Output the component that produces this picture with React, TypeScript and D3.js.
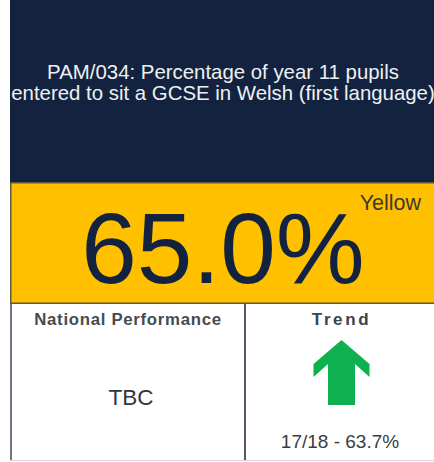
import React from "react";
import * as d3 from "d3";

const titleLines = ["PAM/034: Percentage of year 11 pupils", "entered to sit a GCSE in Welsh (first language)"];
const kpiValue = [65.0];
const ragStatus = ["Yellow"];
const cellLabels = ["National Performance", "Trend"];
const nationalValue = ["TBC"];
const trendPeriods = ["17/18"];
const trendValues = [63.7];

const W = 434;
const H = 462;
const left = 10;

// arrow shape in unit coords (x: -1..1, y: 0 top .. 1 bottom)
const arrowUnit: [number, number][] = [
  [0, 0], [1, 0.369], [1, 0.569], [0.482, 0.369], [0.482, 1],
  [-0.482, 1], [-0.482, 0.369], [-1, 0.569], [-1, 0.369], [0, 0],
];

export default function App() {
  const cellEdges = [left, 245, W];
  const fmtPct = d3.format(".1f");

  const ax = d3.scaleLinear().domain([-1, 1]).range([313.5, 369.5]);
  const ay = d3.scaleLinear().domain([0, 1]).range([340, 405]);
  const arrowPath = d3.line<[number, number]>().x((d) => ax(d[0])).y((d) => ay(d[1]))(arrowUnit) || "";

  const leftCx = (cellEdges[0] + cellEdges[1]) / 2;
  const rightCx = (cellEdges[1] + cellEdges[2]) / 2;

  return (
    <div style={{ position: "absolute", left: 0, top: 0 }}>
      <svg width={W} height={H} style={{ display: "block", fontFamily: "'Liberation Sans', Arial, sans-serif" }}>
        <rect x={0} y={0} width={W} height={H} fill="#ffffff" />
        {/* header */}
        <rect x={left} y={0} width={W - left} height={183} fill="#13233f" />
        {titleLines.map((t, i) => (
          <text key={i} x={223} y={79 + i * 20.5} textAnchor="middle" fontSize={20.4} fill="#eef0f3">
            {t}
          </text>
        ))}
        {/* KPI band */}
        <rect x={left} y={182} width={W - left} height={122} fill="#5b5a3a" />
        <rect x={left + 1.5} y={183.5} width={W - left - 1.5} height={119} fill="#ffc000" />
        <text x={223} y={283} textAnchor="middle" fontSize={100} fill="#13233f">
          {fmtPct(kpiValue[0])}%
        </text>
        <text x={421} y={210} textAnchor="end" fontSize={21.5} fill="#3b3a2c">
          {ragStatus[0]}
        </text>
        {/* bottom cells */}
        <line x1={left + 1} y1={304} x2={left + 1} y2={461} stroke="#6b7686" strokeWidth={2} />
        <line x1={245} y1={304} x2={245} y2={461} stroke="#4f5b6b" strokeWidth={2} />
        <line x1={left} y1={460.5} x2={W} y2={460.5} stroke="#d4d8dc" strokeWidth={1} />
        <text x={leftCx + 0.5} y={325} textAnchor="middle" fontSize={16.8} fontWeight="bold" letterSpacing={0.7} fill="#474b50">
          {cellLabels[0]}
        </text>
        <text x={rightCx + 2} y={325} textAnchor="middle" fontSize={17} fontWeight="bold" letterSpacing={2.6} fill="#3f4347">
          {cellLabels[1]}
        </text>
        <text x={131} y={405} textAnchor="middle" fontSize={22.5} fill="#2c3542">
          {nationalValue[0]}
        </text>
        <path d={arrowPath} fill="#0eb04f" />
        <text x={340} y={448} textAnchor="middle" fontSize={19} fill="#3a3d42">
          {`${trendPeriods[0]} - ${fmtPct(trendValues[0])}%`}
        </text>
      </svg>
    </div>
  );
}
